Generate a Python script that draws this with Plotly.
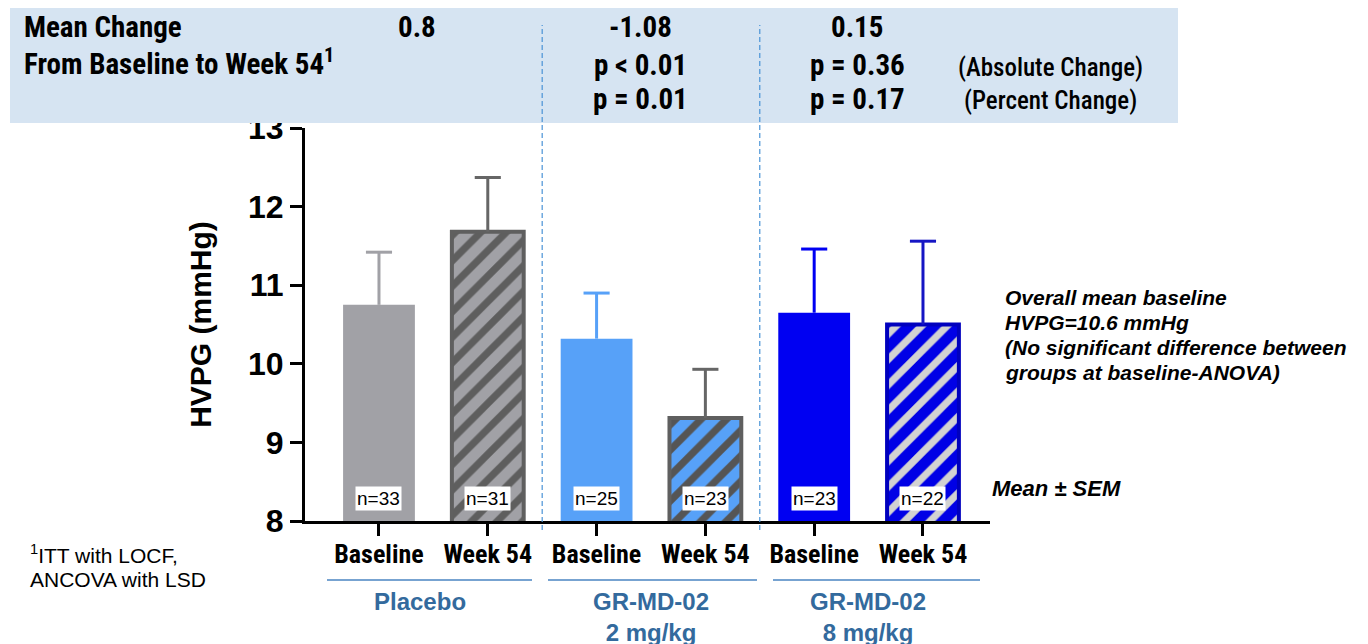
import plotly.graph_objects as go

# ---------------- data ----------------
categories = ["Baseline", "Week 54", "Baseline", "Week 54", "Baseline", "Week 54"]
groups = ["Placebo", "GR-MD-02<br>2 mg/kg", "GR-MD-02<br>8 mg/kg"]
means = [10.75, 11.68, 10.32, 9.31, 10.65, 10.50]
sems = [0.67, 0.69, 0.58, 0.62, 0.81, 1.06]
n_counts = [33, 31, 25, 23, 23, 22]
mean_change = ["0.8", "-1.08", "0.15"]
p_absolute = ["", "p < 0.01", "p = 0.36"]
p_percent = ["", "p = 0.01", "p = 0.17"]
y_ticks = [8, 9, 10, 11, 12, 13]
side_notes = ["Overall mean baseline", "HVPG=10.6 mmHg",
              "(No significant difference between", "groups at baseline-ANOVA)"]
footnotes = ["<sup>1</sup>ITT with LOCF,", "ANCOVA with LSD"]

# ---------------- styles ----------------
fill_colors = ["#A1A1A6", "#A1A1A6", "#57A1F8", "#57A1F8", "#0000F2", "#0000E6"]
stripe_colors = [None, "#5E5E5E", None, "#555555", None, "#D2D2D2"]
border_colors = [None, "#5F5F5F", None, "#5F5F5F", None, "#0000BE"]
err_colors = ["#A1A1A6", "#666666", "#57A1F8", "#666666", "#0000F2", "#1616C4"]

OFF = 8  # page body margin
WF, HF = 1368 - OFF, 644 - OFF
L, R, T, B = 305, 990, 128, 521  # plot area in screenshot pixels
ARIAL = "Liberation Sans, Arial, sans-serif"
COND = "Roboto Condensed, Liberation Sans, sans-serif"


def px(x):
    return (x - L) / (R - L)


def py(y):
    return (B - y) / (B - T)


xpos = list(range(len(means)))

fig = go.Figure()
for i in xpos:
    marker = dict(color=fill_colors[i])
    if stripe_colors[i]:
        marker["pattern"] = dict(shape="/", fgcolor=stripe_colors[i], fgopacity=1, size=18,
                                 solidity=0.4, fillmode="overlay")
        marker["line"] = dict(color=border_colors[i], width=4)
    else:
        marker["line"] = dict(width=0)
    fig.add_trace(go.Bar(x=[xpos[i]], y=[means[i]], width=0.66, marker=marker,
                         showlegend=False, hoverinfo="skip"))
# one-sided error bars (mean -> mean + SEM, with cap)
cap = 0.12
for i in xpos:
    top = means[i] + sems[i]
    fig.add_trace(go.Scatter(x=[xpos[i], xpos[i], None, xpos[i] - cap, xpos[i] + cap],
                             y=[means[i], top, None, top, top], mode="lines",
                             line=dict(color=err_colors[i], width=3),
                             showlegend=False, hoverinfo="skip"))

annotations = []


def note(x, y, text, font, xanchor="center", yanchor="middle", align="center", **kw):
    annotations.append(dict(x=px(x), y=py(y), xref="paper", yref="paper", text=text,
                            xanchor=xanchor, yanchor=yanchor, align=align,
                            showarrow=False, font=font, **kw))


# n labels
for i in xpos:
    annotations.append(dict(x=xpos[i], y=8.29, xref="x", yref="y", text=f"n={n_counts[i]}",
                            xanchor="center", yanchor="middle",
                            showarrow=False, bgcolor="white", borderpad=1,
                            font=dict(family=ARIAL, size=19, color="black")))

# header band texts
hdr_font = dict(family=COND, size=29, color="black", weight="bold")
note(22, 27, "Mean Change", hdr_font, xanchor="left")
note(22, 62, "From Baseline to Week 54<sup>1</sup>", hdr_font, xanchor="left")
col_x = [417, 640, 857]
for g in range(3):
    note(col_x[g], 27, mean_change[g], hdr_font)
    if p_absolute[g]:
        note(col_x[g], 65, p_absolute[g], hdr_font)
        note(col_x[g], 99, p_percent[g], hdr_font)
small_hdr = dict(family=COND, size=25, color="black", weight=500)
note(1050, 67, "(Absolute Change)", small_hdr)
note(1050, 100, "(Percent Change)", small_hdr)

# group labels
grp_px = [420, 651, 868]
for g in range(3):
    note(grp_px[g], 586, f"<b>{groups[g]}</b>",
         dict(family=ARIAL, size=24, color="#336A9D"), yanchor="top")

# right notes
note_font = dict(family=ARIAL, size=21, color="black")
for k, line in enumerate(side_notes):
    note(1003, 297 + 25 * k, f"<b><i>{line}</i></b>", note_font, xanchor="left")
note(990, 488, "<b><i>Mean ± SEM</i></b>", dict(family=ARIAL, size=22, color="black"),
     xanchor="left")

# footnote
for k, line in enumerate(footnotes):
    note(28, 554 + 25 * k, line, dict(family=ARIAL, size=21, color="black"), xanchor="left")

shapes = [
    dict(type="rect", xref="paper", yref="paper", x0=px(10), x1=px(1178), y0=py(123), y1=py(3),
         fillcolor="#D6E4F2", line=dict(width=0), layer="above"),
]
for xv in [0.5 * (xpos[1] + xpos[2]), 0.5 * (xpos[3] + xpos[4])]:
    shapes.append(dict(type="line", xref="x", yref="paper", x0=xv, x1=xv, y0=py(530), y1=py(25),
                       line=dict(color="#4A93D6", width=1.2, dash="5px,3px"), layer="above"))
for a, b in [(327, 532), (548, 757), (773, 980)]:
    shapes.append(dict(type="line", xref="paper", yref="paper", x0=px(a), x1=px(b),
                       y0=py(580), y1=py(580),
                       line=dict(color="#4A85C2", width=1.5), layer="above"))

fig.update_layout(
    width=WF, height=HF, autosize=False,
    margin=dict(l=L - OFF, r=WF - (R - OFF), t=T - OFF, b=HF - (B - OFF), pad=0),
    plot_bgcolor="white", paper_bgcolor="white",
    barmode="overlay",
    annotations=annotations, shapes=shapes,
    xaxis=dict(range=[-0.68, 5.616], tickvals=xpos, ticktext=categories,
               showline=True, linecolor="black", linewidth=3, ticks="outside", ticklen=12,
               tickwidth=3, tickcolor="black", showgrid=False, zeroline=False,
               ticklabelstandoff=-4,
               tickfont=dict(family=COND, size=26, color="black", weight="bold")),
    yaxis=dict(range=[8, 13], tickvals=y_ticks, showline=True, linecolor="black", linewidth=3,
               ticks="outside", ticklen=12, tickwidth=3, tickcolor="black", showgrid=False,
               zeroline=False,
               tickfont=dict(family=ARIAL, size=32, color="black", weight="bold"),
               title=dict(text="<b>HVPG (mmHg)</b>", standoff=28,
                          font=dict(family=ARIAL, size=30, color="black"))),
)

fig.write_html("out.html")
